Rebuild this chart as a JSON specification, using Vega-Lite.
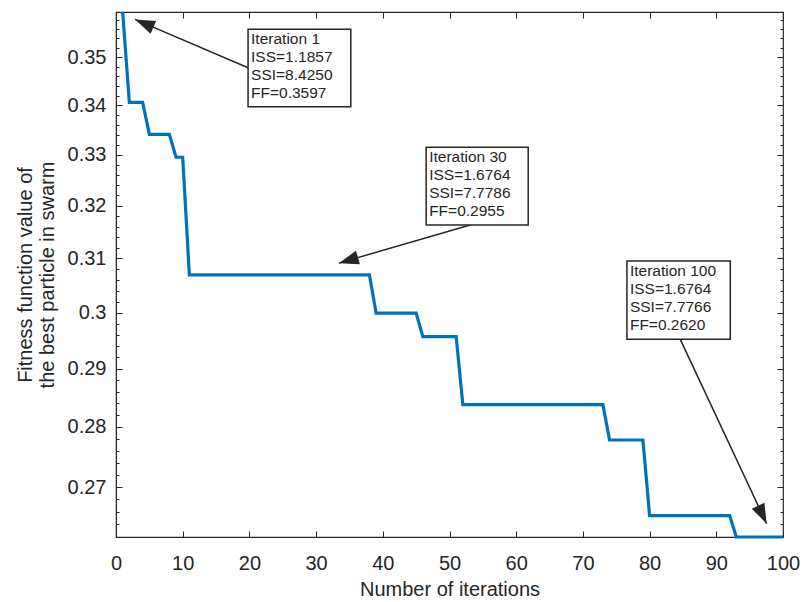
{
  "$schema": "https://vega.github.io/schema/vega-lite/v6.json",
  "width": 667,
  "height": 525,
  "autosize": "none",
  "padding": {"left": 116, "top": 12, "right": 21, "bottom": 65},
  "background": "white",
  "config": {
    "font": "Liberation Sans",
    "view": {"stroke": "#262626", "strokeWidth": 1.2},
    "axis": {
      "domainColor": "#262626",
      "tickColor": "#262626",
      "labelColor": "#262626",
      "titleColor": "#262626",
      "labelFontSize": 20,
      "titleFontSize": 20,
      "titleFontWeight": "normal",
      "grid": false,
      "tickSize": -6,
      "tickWidth": 1
    }
  },
  "datasets": {
    "fitness": [
      {"iteration": 1, "ff": 0.3597}, {"iteration": 2, "ff": 0.3406}, {"iteration": 3, "ff": 0.3406}, {"iteration": 4, "ff": 0.3406},
      {"iteration": 5, "ff": 0.3341}, {"iteration": 6, "ff": 0.3341}, {"iteration": 7, "ff": 0.3341}, {"iteration": 8, "ff": 0.3341},
      {"iteration": 9, "ff": 0.3295}, {"iteration": 10, "ff": 0.3295},
      {"iteration": 11, "ff": 0.3069}, {"iteration": 12, "ff": 0.3069}, {"iteration": 13, "ff": 0.3069}, {"iteration": 14, "ff": 0.3069},
      {"iteration": 15, "ff": 0.3069}, {"iteration": 16, "ff": 0.3069}, {"iteration": 17, "ff": 0.3069}, {"iteration": 18, "ff": 0.3069},
      {"iteration": 19, "ff": 0.3069}, {"iteration": 20, "ff": 0.3069}, {"iteration": 21, "ff": 0.3069}, {"iteration": 22, "ff": 0.3069},
      {"iteration": 23, "ff": 0.3069}, {"iteration": 24, "ff": 0.3069}, {"iteration": 25, "ff": 0.3069}, {"iteration": 26, "ff": 0.3069},
      {"iteration": 27, "ff": 0.3069}, {"iteration": 28, "ff": 0.3069}, {"iteration": 29, "ff": 0.3069}, {"iteration": 30, "ff": 0.3069},
      {"iteration": 31, "ff": 0.3069}, {"iteration": 32, "ff": 0.3069}, {"iteration": 33, "ff": 0.3069}, {"iteration": 34, "ff": 0.3069},
      {"iteration": 35, "ff": 0.3069}, {"iteration": 36, "ff": 0.3069}, {"iteration": 37, "ff": 0.3069}, {"iteration": 38, "ff": 0.3069},
      {"iteration": 39, "ff": 0.2999}, {"iteration": 40, "ff": 0.2999}, {"iteration": 41, "ff": 0.2999}, {"iteration": 42, "ff": 0.2999},
      {"iteration": 43, "ff": 0.2999}, {"iteration": 44, "ff": 0.2999}, {"iteration": 45, "ff": 0.2999},
      {"iteration": 46, "ff": 0.2957}, {"iteration": 47, "ff": 0.2957}, {"iteration": 48, "ff": 0.2957}, {"iteration": 49, "ff": 0.2957},
      {"iteration": 50, "ff": 0.2957}, {"iteration": 51, "ff": 0.2957},
      {"iteration": 52, "ff": 0.2838}, {"iteration": 53, "ff": 0.2838}, {"iteration": 54, "ff": 0.2838}, {"iteration": 55, "ff": 0.2838},
      {"iteration": 56, "ff": 0.2838}, {"iteration": 57, "ff": 0.2838}, {"iteration": 58, "ff": 0.2838}, {"iteration": 59, "ff": 0.2838},
      {"iteration": 60, "ff": 0.2838}, {"iteration": 61, "ff": 0.2838}, {"iteration": 62, "ff": 0.2838}, {"iteration": 63, "ff": 0.2838},
      {"iteration": 64, "ff": 0.2838}, {"iteration": 65, "ff": 0.2838}, {"iteration": 66, "ff": 0.2838}, {"iteration": 67, "ff": 0.2838},
      {"iteration": 68, "ff": 0.2838}, {"iteration": 69, "ff": 0.2838}, {"iteration": 70, "ff": 0.2838}, {"iteration": 71, "ff": 0.2838},
      {"iteration": 72, "ff": 0.2838}, {"iteration": 73, "ff": 0.2838},
      {"iteration": 74, "ff": 0.2778}, {"iteration": 75, "ff": 0.2778}, {"iteration": 76, "ff": 0.2778}, {"iteration": 77, "ff": 0.2778},
      {"iteration": 78, "ff": 0.2778}, {"iteration": 79, "ff": 0.2778},
      {"iteration": 80, "ff": 0.2654}, {"iteration": 81, "ff": 0.2654}, {"iteration": 82, "ff": 0.2654}, {"iteration": 83, "ff": 0.2654},
      {"iteration": 84, "ff": 0.2654}, {"iteration": 85, "ff": 0.2654}, {"iteration": 86, "ff": 0.2654}, {"iteration": 87, "ff": 0.2654},
      {"iteration": 88, "ff": 0.2654}, {"iteration": 89, "ff": 0.2654}, {"iteration": 90, "ff": 0.2654}, {"iteration": 91, "ff": 0.2654},
      {"iteration": 92, "ff": 0.2654},
      {"iteration": 93, "ff": 0.2620}, {"iteration": 94, "ff": 0.2620}, {"iteration": 95, "ff": 0.2620}, {"iteration": 96, "ff": 0.2620},
      {"iteration": 97, "ff": 0.2620}, {"iteration": 98, "ff": 0.2620}, {"iteration": 99, "ff": 0.2620}, {"iteration": 100, "ff": 0.2620}
    ],
    "arrows": [
      {"id": "a1", "fromX": 19.8, "fromY": 0.3478, "toX": 2.85, "toY": 0.3581},
      {"id": "a2", "fromX": 53.1, "fromY": 0.3163, "toX": 33.4, "toY": 0.3091},
      {"id": "a3", "fromX": 84.6, "fromY": 0.2952, "toX": 97.55, "toY": 0.2641}
    ],
    "boxes": [
      {"x1": 19.8, "x2": 35.2, "y1": 0.35595, "y2": 0.3397, "label": "Iteration 1\nISS=1.1857\nSSI=8.4250\nFF=0.3597"},
      {"x1": 46.5, "x2": 61.8, "y1": 0.3315, "y2": 0.3163, "label": "Iteration 30\nISS=1.6764\nSSI=7.7786\nFF=0.2955"},
      {"x1": 76.6, "x2": 92.1, "y1": 0.3095, "y2": 0.2952, "label": "Iteration 100\nISS=1.6764\nSSI=7.7766\nFF=0.2620"}
    ]
  },
  "resolve": {"axis": {"x": "independent", "y": "independent"}},
  "layer": [
    {
      "data": {"name": "fitness"},
      "mark": {"type": "line", "color": "#0072BD", "strokeWidth": 3.2},
      "encoding": {
        "x": {"field": "iteration", "type": "quantitative",
              "scale": {"domain": [0, 100], "nice": false, "zero": false},
              "axis": {"orient": "bottom", "values": [0,10,20,30,40,50,60,70,80,90,100], "title": "Number of iterations", "labelPadding": 22, "titlePadding": 6, "labelFlush": false}},
        "y": {"field": "ff", "type": "quantitative",
              "scale": {"type": "log", "domain": [0.262, 0.3597], "nice": false, "zero": false},
              "axis": {"orient": "left", "values": [0.27,0.28,0.29,0.3,0.31,0.32,0.33,0.34,0.35], "format": "~g", "title": ["Fitness function value of", "the best particle in swarm"], "titleLineHeight": 22, "labelPadding": 16, "titlePadding": 10}}
      }
    },
    {
      "data": {"name": "arrows"},
      "mark": {"type": "rule", "color": "#262626", "strokeWidth": 1.5},
      "encoding": {
        "x": {"field": "fromX", "type": "quantitative", "axis": {"orient": "top", "values": [0,10,20,30,40,50,60,70,80,90,100], "labels": false, "domain": false, "title": null}},
        "y": {"field": "fromY", "type": "quantitative", "axis": {"orient": "right", "values": [0.27,0.28,0.29,0.3,0.31,0.32,0.33,0.34,0.35], "labels": false, "domain": false, "title": null}},
        "x2": {"field": "toX"},
        "y2": {"field": "toY"}
      }
    },
    {
      "data": {"name": "arrows"},
      "transform": [{"filter": "datum.id == 'a1'"}],
      "mark": {"type": "point", "shape": "M0,0 L-0.35,1 L0.35,1 Z", "size": 1600, "filled": true, "color": "#262626", "opacity": 1, "angle": 293.4},
      "encoding": {
        "x": {"field": "toX", "type": "quantitative", "axis": null},
        "y": {"field": "toY", "type": "quantitative", "axis": {"orient": "left", "values": [0.262,0.264,0.266,0.268,0.272,0.274,0.276,0.278,0.282,0.284,0.286,0.288,0.292,0.294,0.296,0.298,0.302,0.304,0.306,0.308,0.312,0.314,0.316,0.318,0.322,0.324,0.326,0.328,0.332,0.334,0.336,0.338,0.342,0.344,0.346,0.348,0.352,0.354,0.356,0.358], "labels": false, "domain": false, "title": null, "tickSize": -3}}
      }
    },
    {
      "data": {"name": "arrows"},
      "transform": [{"filter": "datum.id == 'a2'"}],
      "mark": {"type": "point", "shape": "M0,0 L-0.35,1 L0.35,1 Z", "size": 1600, "filled": true, "color": "#262626", "opacity": 1, "angle": 253.7},
      "encoding": {
        "x": {"field": "toX", "type": "quantitative", "axis": null},
        "y": {"field": "toY", "type": "quantitative", "axis": {"orient": "right", "values": [0.262,0.264,0.266,0.268,0.272,0.274,0.276,0.278,0.282,0.284,0.286,0.288,0.292,0.294,0.296,0.298,0.302,0.304,0.306,0.308,0.312,0.314,0.316,0.318,0.322,0.324,0.326,0.328,0.332,0.334,0.336,0.338,0.342,0.344,0.346,0.348,0.352,0.354,0.356,0.358], "labels": false, "domain": false, "title": null, "tickSize": -3}}
      }
    },
    {
      "data": {"name": "arrows"},
      "transform": [{"filter": "datum.id == 'a3'"}],
      "mark": {"type": "point", "shape": "M0,0 L-0.35,1 L0.35,1 Z", "size": 1600, "filled": true, "color": "#262626", "opacity": 1, "angle": 154.65},
      "encoding": {
        "x": {"field": "toX", "type": "quantitative", "axis": null},
        "y": {"field": "toY", "type": "quantitative", "axis": null}
      }
    },
    {
      "data": {"name": "boxes"},
      "mark": {"type": "rect", "fill": "white", "stroke": "#262626", "strokeWidth": 1.5},
      "encoding": {
        "x": {"field": "x1", "type": "quantitative", "axis": null},
        "x2": {"field": "x2"},
        "y": {"field": "y1", "type": "quantitative", "axis": null},
        "y2": {"field": "y2"}
      }
    },
    {
      "data": {"name": "boxes"},
      "mark": {"type": "text", "align": "left", "baseline": "top", "dx": 3, "dy": 3, "fontSize": 15.5, "lineHeight": 18, "lineBreak": "\n", "color": "#262626"},
      "encoding": {
        "x": {"field": "x1", "type": "quantitative", "axis": null},
        "y": {"field": "y1", "type": "quantitative", "axis": null},
        "text": {"field": "label"}
      }
    }
  ]
}
